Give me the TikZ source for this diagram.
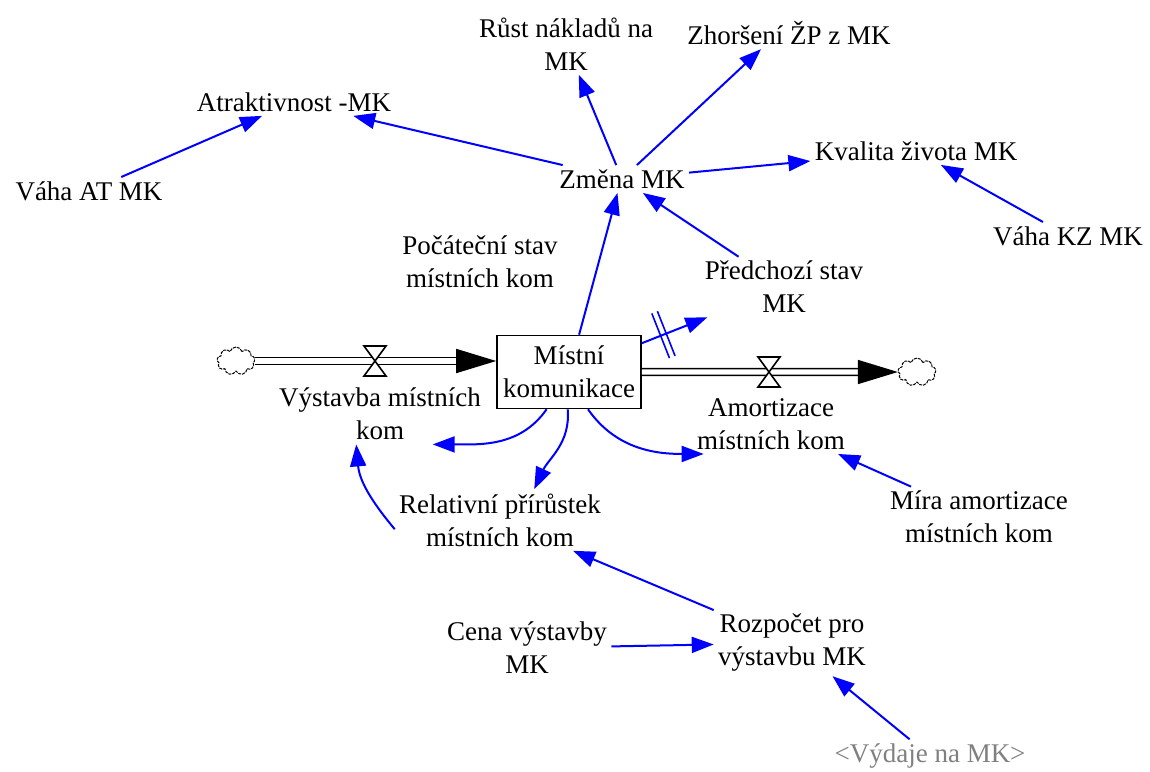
\documentclass[tikz,border=0pt]{standalone}
\usepackage{fontspec}
\setmainfont{Liberation Serif}
\usetikzlibrary{positioning,calc,arrows.meta,shapes.symbols,decorations.markings}
\tikzset{var/.style={align=center,inner sep=2pt,font=\fontsize{13.5}{16.5}\selectfont},
	 stock/.style={var,draw,line width=0.8pt,minimum width=72pt,minimum height=36.5pt,inner sep=1pt},
	 ghost/.style={var,text=gray},
	 link/.style={blue,line width=1pt,-{Triangle[length=11pt,width=8pt]}},
	 pipe/.style={double,line width=0.8pt,double distance=2.6pt},
	 puff/.style={cloud,cloud puffs=9,draw,line width=0.5pt,dash pattern=on 1.5pt off 0.5pt,minimum width=19pt,minimum height=14pt,inner sep=0pt},
	 delay/.style={postaction={decorate},decoration={markings,mark=at position .33 with {\draw[blue,line width=0.8pt,-] (-1.5pt,-12pt) -- (-1.5pt,12pt) (1.5pt,-12pt) -- (1.5pt,12pt);}}}
	 }

\begin{document}
\begin{tikzpicture}[x=0.5pt,y=0.5pt] % Mistni komunikace stock and flows
	\useasboundingbox (0,0) rectangle (1150,-771);
	\node[var] (atrakt) at (294,-102) {Atraktivnost -MK};
	\node[var] (rust) at (566,-44) {Růst nákladů na\\MK};
	\node[var] (zhors) at (789,-33) {Zhoršení ŽP z MK};
	\node[var] (vahaAT) at (89,-191) {Váha AT MK};
	\node[var] (zmena) at (622,-179) {Změna MK};
	\node[var] (kvalita) at (916,-151) {Kvalita života MK};
	\node[var] (vahaKZ) at (1068,-236) {Váha KZ MK};
	\node[var] (pocat) at (480,-262) {Počáteční stav\\místních kom};
	\node[var] (predch) at (784,-287) {Předchozí stav\\MK};
	\node[stock] (mk) at (569,-372) {Místní\\komunikace};
	\node[puff] (srcL) at (236,-361) {};
	\node[puff] (sinkR) at (917,-372) {};
	\coordinate (valveL) at (375,-361); \coordinate (valveR) at (769,-372);
	\node[var] (vystavba) at (380,-414) {Výstavba místních\\kom};
	\node[var] (amort) at (771,-424) {Amortizace\\místních kom};
	\node[var] (relat) at (500,-520) {Relativní přírůstek\\místních kom};
	\node[var] (mira) at (979,-517) {Míra amortizace\\místních kom};
	\node[var] (rozp) at (792,-643) {Rozpočet pro\\výstavbu MK};
	\node[var] (cena) at (527,-648) {Cena výstavby\\MK};
	\node[ghost] (vydaje) at (930,-756) {<Výdaje na MK>};
	% flows
	\draw[pipe] (srcL.east) -- ($(mk.west|-srcL)+(-38,0)$);
	\draw[-{Triangle[length=20pt,width=12pt]},line width=0.8pt] ($(mk.west|-srcL)+(-40,0)$) -- (mk.west|-srcL);
	\draw[pipe] (mk.east) -- ($(sinkR.west)+(-38,0)$);
	\draw[-{Triangle[length=20pt,width=12pt]},line width=0.8pt] ($(sinkR.west)+(-40,0)$) -- (sinkR.west);
	\foreach \v in {valveL,valveR}
	  \draw[fill=white,line width=0.8pt] ($(\v)+(-11,15)$) -- ++(22,0) -- ++(-22,-30) -- ++(22,0) -- cycle;
	% links
	\draw[link] (vahaAT) -- (atrakt);
	\draw[link] (zmena) -- (atrakt);
	\draw[link] (zmena) -- (rust);
	\draw[link] (zmena) -- (zhors.-150);
	\draw[link] (zmena) -- (kvalita);
	\draw[link] (vahaKZ) -- (kvalita);
	\draw[link] (predch) -- (zmena);
	\draw[link] (mk) -- (zmena.-108);
	\draw[link,delay] (mk) -- (predch);
	\draw[link] (mk.-121) to[out=-125,in=0] (vystavba.-30);
	\draw[link] (mk.-92) to[out=-85,in=65] (relat.42);
	\draw[link] (mk.-63) to[out=-55,in=180] (amort.-156);
	\draw[link] (relat.185) to[out=130,in=-85] (vystavba.-128);
	\draw[link] (mira) -- (amort);
	\draw[link] (rozp) -- (relat);
	\draw[link] (cena) -- (rozp);
	\draw[link] (vydaje) -- (rozp);
\end{tikzpicture}
\end{document}
